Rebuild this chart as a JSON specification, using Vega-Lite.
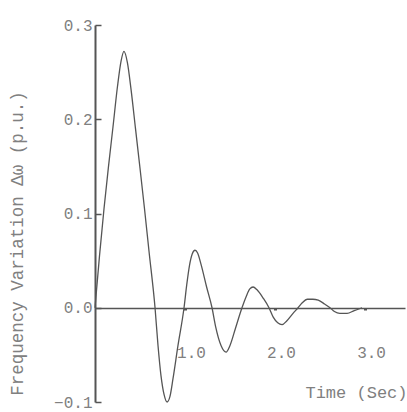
{
  "$schema": "https://vega.github.io/schema/vega-lite/v6.json",
  "width": 310,
  "height": 377,
  "autosize": "none",
  "padding": {"left": 95, "top": 25, "right": 2, "bottom": 10},
  "background": "white",
  "config": {
    "view": {"stroke": null},
    "axis": {"labelFont": "Liberation Mono", "titleFont": "Liberation Mono", "labelColor": "#808080", "titleColor": "#808080", "labelFontWeight": "normal", "titleFontWeight": "normal", "grid": false}
  },
  "data": {"values": [
    {"t": 0, "v": 0}, {"t": 0.05, "v": 0.055}, {"t": 0.1, "v": 0.105}, {"t": 0.15, "v": 0.15}, {"t": 0.2, "v": 0.192},
    {"t": 0.25, "v": 0.235}, {"t": 0.29, "v": 0.262}, {"t": 0.322, "v": 0.272}, {"t": 0.36, "v": 0.26}, {"t": 0.4, "v": 0.232},
    {"t": 0.45, "v": 0.19}, {"t": 0.5, "v": 0.148}, {"t": 0.55, "v": 0.105}, {"t": 0.6, "v": 0.06}, {"t": 0.667, "v": 0},
    {"t": 0.7, "v": -0.04}, {"t": 0.733, "v": -0.072}, {"t": 0.767, "v": -0.092}, {"t": 0.8, "v": -0.1}, {"t": 0.833, "v": -0.094},
    {"t": 0.867, "v": -0.075}, {"t": 0.922, "v": -0.04}, {"t": 0.989, "v": 0},
    {"t": 1.02, "v": 0.025}, {"t": 1.05, "v": 0.045}, {"t": 1.08, "v": 0.057}, {"t": 1.111, "v": 0.061}, {"t": 1.14, "v": 0.058},
    {"t": 1.178, "v": 0.046}, {"t": 1.24, "v": 0.022}, {"t": 1.3, "v": 0},
    {"t": 1.34, "v": -0.02}, {"t": 1.4, "v": -0.04}, {"t": 1.456, "v": -0.047}, {"t": 1.5, "v": -0.04}, {"t": 1.56, "v": -0.022}, {"t": 1.633, "v": 0},
    {"t": 1.68, "v": 0.012}, {"t": 1.72, "v": 0.02}, {"t": 1.756, "v": 0.022}, {"t": 1.8, "v": 0.019}, {"t": 1.87, "v": 0.01}, {"t": 1.933, "v": 0},
    {"t": 1.98, "v": -0.01}, {"t": 2.03, "v": -0.016}, {"t": 2.078, "v": -0.018}, {"t": 2.13, "v": -0.014}, {"t": 2.2, "v": -0.006}, {"t": 2.256, "v": 0},
    {"t": 2.3, "v": 0.005}, {"t": 2.36, "v": 0.009}, {"t": 2.42, "v": 0.009}, {"t": 2.48, "v": 0.008}, {"t": 2.55, "v": 0.004}, {"t": 2.611, "v": 0},
    {"t": 2.66, "v": -0.004}, {"t": 2.72, "v": -0.006}, {"t": 2.8, "v": -0.006}, {"t": 2.88, "v": -0.003}, {"t": 2.967, "v": 0}
  ]},
  "layer": [
    {
      "mark": {"type": "line", "interpolate": "monotone", "color": "#555555", "strokeWidth": 1.3},
      "encoding": {
        "x": {"field": "t", "type": "quantitative",
          "scale": {"domain": [0, 3.444], "nice": false, "zero": false},
          "axis": {"values": [1, 2, 3], "format": ".1f", "offset": -94, "domain": true, "domainColor": "#555555", "domainWidth": 1.6,
            "ticks": true, "tickSize": 2, "tickWidth": 3, "tickColor": "#555555",
            "labelPadding": 34, "labelOffset": 6, "labelFontSize": 16,
            "title": "Time (Sec)", "titleFontSize": 17, "titleAnchor": "end", "titleAlign": "right", "titleBaseline": "middle", "titleX": 312, "titleY": 84}},
        "y": {"field": "v", "type": "quantitative",
          "scale": {"domain": [-0.1, 0.3], "nice": false, "zero": false},
          "axis": {"values": [-0.1, 0, 0.1, 0.2, 0.3], "format": ".1f", "domain": true, "domainColor": "#555555", "domainWidth": 2,
            "ticks": true, "tickSize": -6, "tickWidth": 1.5, "tickColor": "#555555",
            "labelPadding": 9, "labelFontSize": 16,
            "title": "Frequency Variation Δω (p.u.)", "titleFontSize": 17.5, "titleAngle": 270, "titleAlign": "center", "titleBaseline": "middle", "titleX": -78, "titleY": 218}}
      }
    }
  ]
}
